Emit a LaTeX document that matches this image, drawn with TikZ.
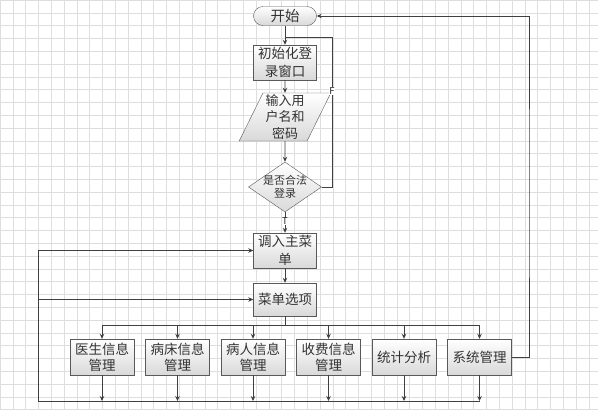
\documentclass[tikz,border=0pt]{standalone}
\usepackage{fontspec}
\newfontfamily\cjk{Noto Sans CJK SC}
\usetikzlibrary{positioning, shapes.geometric, arrows.meta}

\begin{document}
\begin{tikzpicture}[x=1pt, y=1pt,
		main/.style = {draw=black!65, top color=white, bottom color=black!15, text=black!80, align=center, inner sep=0pt, font=\cjk\fontsize{13.5}{18}\selectfont},
		box/.style = {main, rectangle, minimum width=63pt, minimum height=35pt},
		sub/.style = {box, minimum width=64pt, minimum height=36pt, font=\cjk\fontsize{13.5}{16}\selectfont},
		flag/.style = {fill=white, inner sep=0.3pt, text=black!85, font=\cjk\fontsize{9.5}{10}\selectfont},
		wire/.style = {draw=black!75, line width=0.75pt},
		arr/.style = {wire, -{Stealth[length=5pt, width=4.5pt]}}]
		\useasboundingbox (0,0) rectangle (598,-410);
		\fill[white] (0,0) rectangle (598,-410);
		\draw[step=12.8pt, black!13, line width=0.4pt] (0,-410) grid (598,0);

		\node[main, rounded corners=9.5pt, minimum width=63pt, minimum height=19pt, font=\cjk\fontsize{14.5}{16}\selectfont] (start) at (285,-16) {开始};
		\node[box] (init) [below of=start, node distance=46.5pt] {初始化登\\录窗口};
		\node[main, trapezium, trapezium left angle=65, trapezium right angle=115, trapezium stretches=true, minimum width=92pt, minimum height=48pt, font=\cjk\fontsize{13}{16.5}\selectfont] (input) [below of=init, node distance=54.5pt] {输入用\\户名和\\密码};
		\node[main, diamond, aspect=1.46, minimum width=73pt, minimum height=50pt, label={[font=\cjk\fontsize{11}{13}\selectfont, align=center, text=black!80]center:是否合法\\登录}] (check) [below of=input, node distance=70pt] {};
		\node[box] (menu) [below of=check, node distance=63.5pt] {调入主菜\\单};
		\node[box, minimum height=33pt] (opts) [below of=menu, node distance=49pt] {菜单选项};

		\node[sub] (doc) at (102,-357) {医生信息\\管理};
		\node[sub] (bed) [right of=doc, node distance=75.5pt] {病床信息\\管理};
		\node[sub] (pat) [right of=bed, node distance=75.5pt] {病人信息\\管理};
		\node[sub] (fee) [right of=pat, node distance=75.5pt] {收费信息\\管理};
		\node[sub] (stat) [right of=fee, node distance=75.5pt] {统计分析};
		\node[sub] (sys) [right of=stat, node distance=75.5pt] {系统管理};

		\coordinate (fback) at (332,-37);
		\coordinate (bus) at (285,-325);
		\coordinate (back) at (38,-401);
		\coordinate (rback) at (529,-200);

		\draw[arr] (start) -- (init);
		\draw[arr] (init) -- (input);
		\draw[arr] (input) -- (check);
		\draw[arr] (check) -- (menu) node[flag, pos=0.45] {T};
		\draw[wire] (check.east) -| (fback) node[flag, pos=0.82] {F} -- (fback -| init);
		\draw[arr] (menu) -- (opts);

		\draw[wire] (opts) -- (bus);
		\draw[wire] (doc |- bus) -- (sys |- bus);
		\foreach \n in {doc, bed, pat, fee, stat, sys} {
			\draw[arr] (\n |- bus) -- (\n);
			\draw[arr] (\n) -- (\n |- back);
		}
		\draw[wire] (back) -- (sys |- back);
		\draw[arr] (back) |- (menu);
		\draw[arr] (back) |- (opts);
		\draw[arr] (sys) -| (rback) |- (start);
	\end{tikzpicture}
\end{document}
